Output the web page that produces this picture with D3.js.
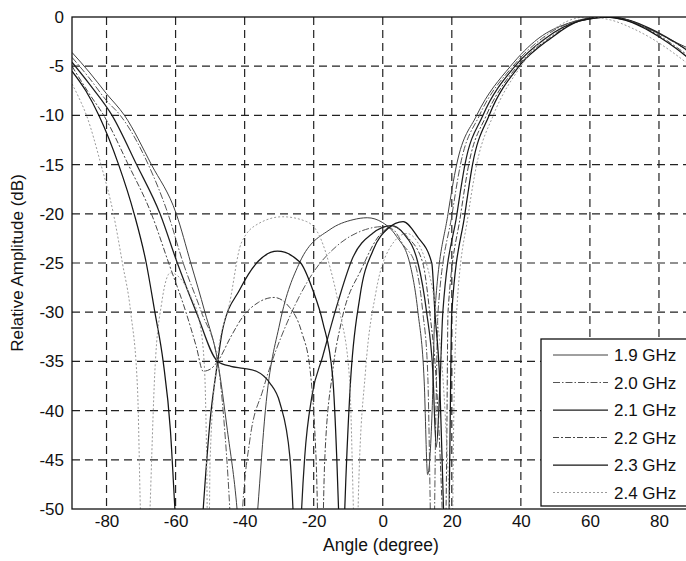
<!DOCTYPE html>
<html>
<head>
<meta charset="utf-8">
<script src="https://cdn.jsdelivr.net/npm/d3@7"></script>
<style>
  body { margin: 0; background: #fff; }
  svg { display: block; font-family: "Liberation Sans", Arial, sans-serif; }
</style>
</head>
<body>
<div id="chart"></div>
<script>
// tick values
var angleTicks = [-80, -60, -40, -20, 0, 20, 40, 60, 80];
var dbTicks = [0, -5, -10, -15, -20, -25, -30, -35, -40, -45, -50];
var freqLabels = ["1.9 GHz", "2.0 GHz", "2.1 GHz", "2.2 GHz", "2.3 GHz", "2.4 GHz"];

// [angle (deg), relative amplitude (dB)]
var f19 = [[-90,-3.6],[-85,-5.6],[-80,-7.8],[-74.8,-10],[-67,-15],[-59.8,-20],[-55.6,-25],[-51.5,-30],[-47.8,-35],[-45,-42],[-42.2,-50],[-39.3,-65],[-36.2,-50],[-34,-40],[-29.8,-31.1],[-24,-24.9],[-15.3,-21.6],[-8.6,-20.6],[-4.5,-20.4],[0,-20.9],[4,-22.3],[7.8,-25],[10.2,-30],[12,-37],[13,-46.5],[14.3,-40],[15.1,-30],[18.9,-20],[21.4,-15],[27.2,-10],[37,-5],[45,-2.2],[55,-0.5],[63,0],[70,-0.3],[75,-0.9],[80,-1.7],[85,-2.6],[90,-3.4]];
var f20 = [[-90,-4.1],[-85,-6.2],[-80,-8.5],[-76,-10],[-67.9,-15],[-62.2,-20],[-57.8,-25],[-52.5,-30],[-47.8,-35],[-46,-41],[-44.3,-50],[-42.5,-65],[-40.6,-50],[-38.5,-43],[-34.7,-37.9],[-27,-30.5],[-20.2,-26],[-13.4,-23.3],[-5,-21.6],[0,-21.3],[3,-21.6],[6,-23.2],[9.3,-25],[11.6,-30],[13,-36],[14.5,-60],[15.4,-40],[16,-30],[20.1,-20],[22.5,-15],[28,-10],[37.7,-5],[46,-2.2],[56,-0.4],[65,0],[71,-0.3],[76,-1],[81,-1.9],[86,-2.9],[90,-3.7]];
var f21 = [[-90,-4.6],[-85,-6.8],[-78.4,-10],[-71.3,-15],[-64.5,-20],[-59.5,-25],[-54,-30],[-47.8,-35],[-44,-35.5],[-40.4,-35.7],[-36.6,-36],[-32.7,-37.2],[-29.8,-39.2],[-26.9,-44.7],[-26,-50],[-24.8,-62],[-23.5,-50],[-22.6,-44.7],[-20.5,-38.5],[-17.4,-34.5],[-13,-29],[-8.6,-24.4],[-3,-22],[2.5,-21.2],[6,-22],[10.2,-25],[12.7,-30],[14.5,-36],[15.5,-43.7],[16.5,-38],[17.4,-30],[21.5,-20],[23.8,-15],[29,-10],[38.3,-5],[47,-2.2],[57,-0.4],[66,0],[72,-0.4],[77,-1.1],[82,-2],[87,-3.1],[90,-3.9]];
var f22 = [[-90,-5],[-85,-7.8],[-80.8,-10],[-73.7,-15],[-67,-20],[-62,-25],[-57,-30],[-54,-33.5],[-52,-36],[-50,-35.8],[-47.8,-35],[-44,-32.5],[-40.6,-30.5],[-36,-29],[-31.5,-28.5],[-27,-29.5],[-23.5,-32],[-21,-36],[-19.3,-45],[-18,-60],[-16.8,-45],[-14.5,-36],[-12,-31],[-6,-25.5],[-1,-22.2],[3,-21.3],[7,-22.3],[11.6,-25],[13.6,-30],[15.5,-37],[17.2,-50],[17.9,-58],[18.5,-45],[18.9,-30],[22.6,-20],[24.9,-15],[30,-10],[39,-5],[48,-2.2],[57,-0.4],[65,0],[71,-0.3],[76,-1.1],[81,-2.1],[86,-3.3],[90,-4.3]];
var f23 = [[-90,-5.5],[-86,-7.5],[-82.2,-10],[-76.5,-15],[-72,-20],[-68.5,-25],[-66,-30],[-63.6,-35],[-61.5,-42],[-60.2,-50],[-56,-75],[-52,-50],[-50,-41],[-47.8,-35],[-46.4,-31.8],[-41.4,-27.7],[-36,-24.8],[-30.5,-23.8],[-24,-24.9],[-20.3,-27.7],[-17.3,-31.1],[-14.5,-36.6],[-13.3,-45],[-12.8,-50],[-12,-62],[-11,-50],[-9.5,-38],[-6.6,-28.4],[-2.8,-23.7],[1.5,-21.5],[5.9,-20.8],[10,-22.3],[14.2,-25],[15.1,-30],[16.5,-37],[17.6,-50],[18.8,-62],[19.4,-45],[20,-30],[23.8,-20],[26,-15],[30.8,-10],[39.5,-5],[48.5,-2.2],[57,-0.4],[65,0],[70,-0.3],[75,-1],[80,-2],[85,-3.2],[90,-4.6]];
var f24 = [[-90,-6.8],[-88,-8.2],[-85.8,-10],[-81.6,-15],[-78,-20],[-75.4,-25],[-73,-30],[-71,-38],[-70.2,-50],[-68.8,-65],[-67.4,-50],[-66,-36],[-64,-29],[-61.5,-26],[-58.8,-26.5],[-55.5,-28.5],[-53,-31.1],[-51.6,-35.9],[-51,-45],[-50.5,-60],[-50,-45],[-48,-35],[-44.3,-29],[-41,-23],[-36,-21],[-29,-20.3],[-22,-20.8],[-18,-22.5],[-15.3,-25.4],[-12.4,-30],[-9.6,-36.9],[-8.5,-50],[-7.8,-60],[-7,-48],[-5,-36],[-2,-28],[2,-23.5],[7,-22],[11,-23.5],[13,-25.5],[15.5,-30],[17.5,-37],[19.4,-50],[20,-55],[20.6,-40],[21.4,-30],[24.8,-20],[27.2,-15],[32,-10],[40,-5],[47,-2],[53,-0.5],[59,0],[66,-0.3],[72,-1.1],[78,-2.2],[84,-3.6],[90,-5.2]];

var series = [f19, f20, f21, f22, f23, f24];
// line look per frequency, legend order
var styles = [
  {color: "#404040", width: 1.0, dash: null},
  {color: "#555555", width: 1.0, dash: "7,2,1.5,2"},
  {color: "#1e1e1e", width: 1.25, dash: null},
  {color: "#454545", width: 1.0, dash: "6,2,2,2"},
  {color: "#151515", width: 1.25, dash: null},
  {color: "#9a9a9a", width: 1.0, dash: "2,2"}
];

var W = 686, H = 561;
var m = {left: 72, top: 17, right: 693.5, bottom: 509};

var svg = d3.select("#chart").append("svg").attr("width", W).attr("height", H);

var x = d3.scaleLinear().domain([-90, 90]).range([m.left, m.right]);
var y = d3.scaleLinear().domain([-50, 0]).range([m.bottom, m.top]);

svg.append("defs").append("clipPath").attr("id", "plotclip")
  .append("rect").attr("x", m.left).attr("y", m.top).attr("width", m.right - m.left).attr("height", m.bottom - m.top);

// grid
var grid = svg.append("g");
grid.selectAll("line.vg").data(angleTicks).enter().append("line").classed("vg", true)
  .attr("x1", function(d){return x(d)}).attr("x2", function(d){return x(d)})
  .attr("y1", m.top).attr("y2", m.bottom)
  .attr("stroke", "#222").attr("stroke-width", 1.2).attr("stroke-dasharray", "8,5");
grid.selectAll("line.hg").data(dbTicks.filter(function(d){return d > -50 && d < 0})).enter().append("line").classed("hg", true)
  .attr("x1", m.left).attr("x2", m.right)
  .attr("y1", function(d){return y(d)}).attr("y2", function(d){return y(d)})
  .attr("stroke", "#222").attr("stroke-width", 1.2).attr("stroke-dasharray", "8,5");

// curves
var line = d3.line()
  .x(function(d){return x(d[0])})
  .y(function(d){return y(d[1])})
  .curve(d3.curveMonotoneX);

var curves = svg.append("g").attr("clip-path", "url(#plotclip)");
curves.selectAll("path.freq").data(series).enter().append("path").classed("freq", true)
  .attr("d", line)
  .attr("fill", "none")
  .attr("stroke", function(d,i){return styles[i].color})
  .attr("stroke-width", function(d,i){return styles[i].width})
  .attr("stroke-dasharray", function(d,i){return styles[i].dash});

// axes box (right side runs off the page)
svg.append("rect").attr("x", m.left).attr("y", m.top).attr("width", m.right - m.left).attr("height", m.bottom - m.top)
  .attr("fill", "none").attr("stroke", "#111").attr("stroke-width", 1.3);

var plain = function(d){return String(d)}; // keep ascii hyphen minus like the original
var xAxis = svg.append("g").attr("transform", "translate(0," + m.bottom + ")")
  .call(d3.axisBottom(x).tickValues(angleTicks).tickFormat(plain).tickSize(0).tickPadding(6));
var yAxis = svg.append("g").attr("transform", "translate(" + m.left + ",0)")
  .call(d3.axisLeft(y).tickValues(dbTicks).tickFormat(plain).tickSize(0).tickPadding(8));
[xAxis, yAxis].forEach(function(a){
  a.select(".domain").remove();
  a.selectAll("text").attr("font-size", 17).attr("font-family", "Liberation Sans, Arial, sans-serif").attr("fill", "#111");
});

svg.append("text").attr("x", 381).attr("y", 551).attr("text-anchor", "middle")
  .attr("font-size", 17.5).attr("fill", "#111").text("Angle (degree)");
svg.append("text").attr("transform", "translate(23," + ((m.top + m.bottom) / 2) + ") rotate(-90)")
  .attr("text-anchor", "middle").attr("font-size", 17).attr("fill", "#111").text("Relative Amplitude (dB)");

// legend
var legend = svg.append("g");
legend.append("rect").attr("x", 541).attr("y", 339).attr("width", 170).attr("height", 167)
  .attr("fill", "#fff").attr("stroke", "#111").attr("stroke-width", 1.3);
var rows = legend.selectAll("g.row").data(freqLabels).enter().append("g").classed("row", true)
  .attr("transform", function(d,i){return "translate(0," + (355 + i * 27.5) + ")"});
rows.append("line").attr("x1", 553).attr("x2", 608).attr("y1", 0).attr("y2", 0)
  .attr("stroke", function(d,i){return styles[i].color})
  .attr("stroke-width", function(d,i){return styles[i].width})
  .attr("stroke-dasharray", function(d,i){return styles[i].dash});
rows.append("text").attr("x", 614).attr("y", 6).attr("font-size", 17).attr("fill", "#111").text(function(d){return d});
</script>
</body>
</html>
